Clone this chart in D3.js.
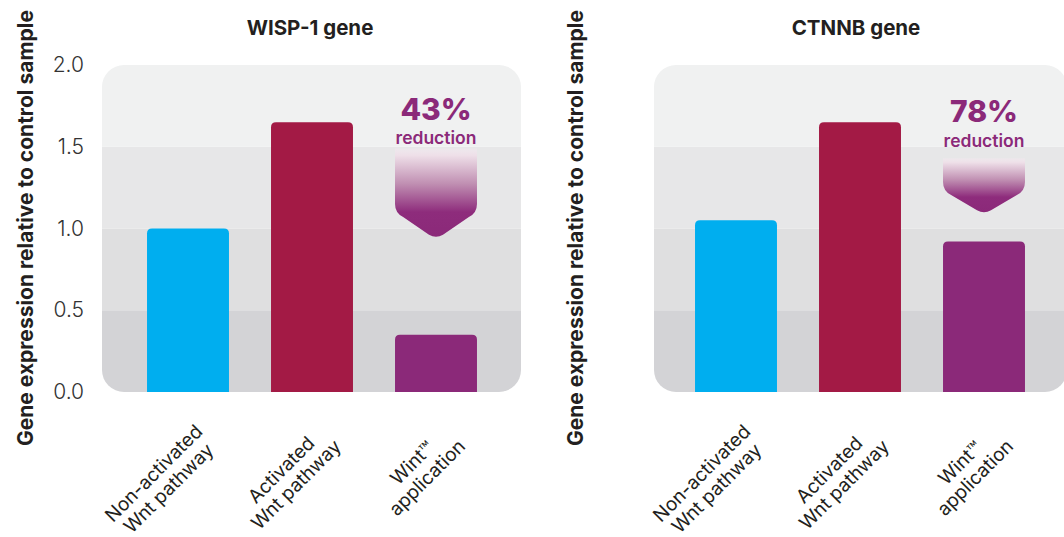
<!DOCTYPE html>
<html>
<head>
<meta charset="utf-8">
<script src="https://cdn.jsdelivr.net/npm/d3@7"></script>
<style>
  html, body { margin: 0; padding: 0; background: #ffffff; }
  svg { display: block; font-family: Inter, "Noto Sans", sans-serif; }
</style>
</head>
<body>
<svg id="chart" width="1064" height="537"></svg>
<script>
// ---- data ----
const genes = ["WISP-1 gene", "CTNNB gene"];
const categoryLines = [
  ["Non-activated", "Wnt pathway"],
  ["Activated", "Wnt pathway"],
  ["Wint\u2122", "application"]
];
const wispValues = [1.0, 1.65, 0.35];
const ctnnbValues = [1.05, 1.65, 0.92];
const reductionPercents = ["43%", "78%"];
const reductionWord = "reduction";
const yTicks = [0, 0.5, 1.0, 1.5, 2.0];
const yTickLabels = ["0.0", "0.5", "1.0", "1.5", "2.0"];
const yAxisTitle = "Gene expression relative to control sample";
// arrow annotation extents (in data units): top of arrow, start of chevron, tip
const arrowTop = [1.49, 1.43];
const arrowShoulder = [1.095, 1.23];
const arrowTip = [0.94, 1.09];
// baseline level of the "xx%" annotation text (data units)
const percentLevel = [1.655, 1.64];

const seriesValues = [wispValues, ctnnbValues];
const barColors = ["#00AEEF", "#A31A45", "#8B2979"];
const bandColors = ["#D3D3D6", "#DFDFE0", "#E7E7E8", "#F0F1F1"];
const purple = "#8B2979";

const svg = d3.select("#chart");
const defs = svg.append("defs");

const grad = defs.append("linearGradient")
  .attr("id", "arrowGrad").attr("x1", 0).attr("y1", 0).attr("x2", 0).attr("y2", 1);
grad.append("stop").attr("offset", "0").attr("stop-color", "#f3e8ef").attr("stop-opacity", 0.5);
grad.append("stop").attr("offset", "0.08").attr("stop-color", "#eedfe8");
grad.append("stop").attr("offset", "0.4").attr("stop-color", "#c08fb2");
grad.append("stop").attr("offset", "0.72").attr("stop-color", "#8E2C7C");
grad.append("stop").attr("offset", "1").attr("stop-color", purple);

const y = d3.scaleLinear().domain([0, 2]).range([392, 65]);

const panels = [
  { left: 102, right: 521, xr: [126, 498], titleX: 310, ylabX: 33, showTicks: true },
  { left: 654, right: 1067, xr: [674, 1046], titleX: 856, ylabX: 583, showTicks: false }
];

panels.forEach((p, pi) => {
  const g = svg.append("g");
  const values = seriesValues[pi];
  const cats = categoryLines.map(l => l.join(" "));
  const x = d3.scaleBand().domain(cats).range(p.xr).paddingInner(0.339).paddingOuter(0.1695);

  // clip for the rounded panel
  const clipId = "clip" + pi;
  defs.append("clipPath").attr("id", clipId)
    .append("rect")
    .attr("x", p.left).attr("y", y(2))
    .attr("width", p.right - p.left).attr("height", y(0) - y(2))
    .attr("rx", 22).attr("ry", 22);

  const bandG = g.append("g").attr("clip-path", `url(#${clipId})`);
  const bands = d3.pairs(yTicks);
  bandG.selectAll("rect").data(bands).join("rect")
    .attr("x", p.left)
    .attr("width", p.right - p.left)
    .attr("y", d => y(d[1]))
    .attr("height", d => y(d[0]) - y(d[1]))
    .attr("fill", (d, i) => bandColors[i]);

  // bars with rounded top corners
  const r = 5;
  g.selectAll("path.bar").data(values).join("path")
    .attr("class", "bar")
    .attr("fill", (d, i) => barColors[i])
    .attr("d", (d, i) => {
      const x0 = x(cats[i]), w = x.bandwidth();
      const yt = y(d), yb = y(0);
      return `M${x0},${yb}V${yt + r}Q${x0},${yt} ${x0 + r},${yt}H${x0 + w - r}Q${x0 + w},${yt} ${x0 + w},${yt + r}V${yb}Z`;
    });

  // arrow annotation over the third bar
  const ax = x(cats[2]), aw = x.bandwidth();
  const at = y(arrowTop[pi]), as = y(arrowShoulder[pi]), atip = y(arrowTip[pi]);
  const cr = 9;
  const mid = ax + aw / 2;
  const path = d3.path();
  path.moveTo(ax, at);
  path.lineTo(ax + aw, at);
  path.lineTo(ax + aw, as - cr);
  path.quadraticCurveTo(ax + aw, as, ax + aw - cr * 0.9, as + cr * 0.45);
  path.lineTo(mid + 7, atip - 3.5);
  path.quadraticCurveTo(mid, atip + 0.5, mid - 7, atip - 3.5);
  path.lineTo(ax + cr * 0.9, as + cr * 0.45);
  path.quadraticCurveTo(ax, as, ax, as - cr);
  path.closePath();
  g.append("path").attr("d", path.toString()).attr("fill", "url(#arrowGrad)");

  const py = y(percentLevel[pi]);
  g.append("text")
    .attr("x", mid).attr("y", py - 1.5)
    .attr("text-anchor", "middle")
    .attr("font-size", 30).attr("font-weight", 800)
    .attr("fill", purple)
    .text(reductionPercents[pi]);
  g.append("text")
    .attr("x", mid).attr("y", py + 23)
    .attr("text-anchor", "middle")
    .attr("font-size", 17.5).attr("font-weight", 600)
    .attr("fill", purple)
    .text(reductionWord);

  // title
  g.append("text")
    .attr("x", p.titleX).attr("y", 35)
    .attr("text-anchor", "middle")
    .attr("font-size", 20.5).attr("font-weight", 700)
    .attr("fill", "#231F20")
    .text(genes[pi]);

  // y axis title
  g.append("text")
    .attr("transform", `translate(${p.ylabX},228) rotate(-90)`)
    .attr("text-anchor", "middle")
    .attr("font-size", 21).attr("font-weight", 700)
    .attr("fill", "#231F20")
    .text(yAxisTitle);

  // y axis ticks (left panel only)
  if (p.showTicks) {
    const axis = d3.axisLeft(y).tickValues(yTicks).tickSize(0).tickPadding(0)
      .tickFormat((d, i) => yTickLabels[i]);
    const ag = g.append("g").attr("transform", "translate(84,0)").call(axis);
    ag.select(".domain").remove();
    ag.selectAll("text")
      .attr("font-family", "Inter, sans-serif")
      .attr("font-size", 21).attr("font-weight", 300)
      .attr("fill", "#333333");
  }

  // x category labels, rotated -45deg; lines centred within the block,
  // block's bounding box right edge near bar centre + 34 and top at y=420
  const lh = 21;
  categoryLines.forEach((lines, i) => {
    const bc = x(cats[i]) + x.bandwidth() / 2;
    const outer = g.append("g");
    const tg = outer.append("g").attr("transform", "rotate(-45)");
    lines.forEach((ln, k) => tg.append("text")
      .attr("font-size", 19).attr("font-weight", 400)
      .attr("fill", "#231F20")
      .attr("text-anchor", "middle")
      .attr("y", k * lh)
      .text(ln));
    const bb = tg.node().getBoundingClientRect();
    outer.attr("transform", `translate(${bc + 34 - bb.right},${420 - bb.top})`);
  });
});
</script>
</body>
</html>
